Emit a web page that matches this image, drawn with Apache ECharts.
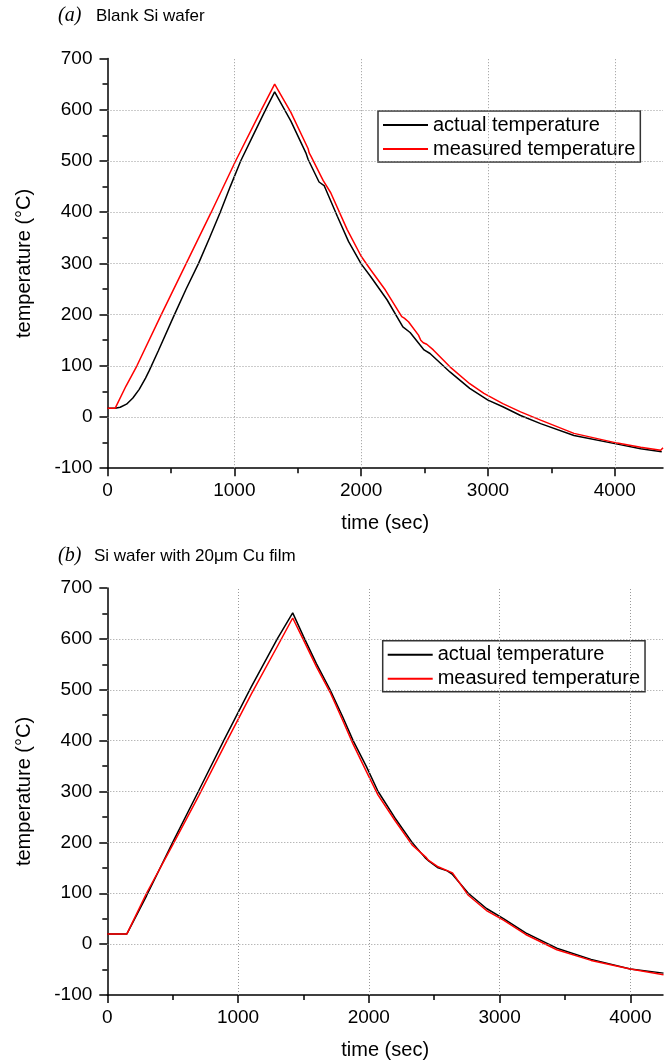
<!DOCTYPE html>
<html>
<head>
<meta charset="utf-8">
<title>temperature</title>
<script src="https://cdn.jsdelivr.net/npm/echarts@6/dist/echarts.min.js"></script>
<style>
  body { margin: 0; background: #fff; }
  #main { width: 672px; height: 1061px; }
</style>
</head>
<body>
<div id="main"></div>
<script>
// (a) blank Si wafer, [time s, temperature C]
var actualA = [[0,17],[60,17],[100,19],[150,25],[200,37],[250,54],[300,76],[330,91],[400,129],[526,199],[620,250],[718,300],[805,350],[889,400],[968,450],[1050,500],[1148,550],[1246,600],[1318,635],
  [1446,578],[1564,516],[1582,503],[1668,459],[1708,452],[1812,392],[1900,343],[2000,299],[2073,275],[2204,229],[2329,176],[2386,165],[2496,131],[2543,124],
  [2700,88],[2856,56],[3000,33],[3117,20],[3257,3],[3415,-13],[3678,-36],[4020,-53],[4204,-62],[4370,-68]];
var measuredA = [[0,17],[60,17],[145,60],[232,100],[424,200],[621,300],[818,400],[1010,500],[1213,600],[1318,650],
  [1446,595],[1582,524],[1590,516],[1603,510],[1676,474],[1700,462],[1760,438],[1890,366],[2000,314],[2073,288],[2191,248],[2308,201],[2320,196],[2340,193],
  [2373,186],[2452,160],[2470,150],[2490,145],[2517,142],[2569,131],[2700,98],[2856,65],[2968,46],[3117,26],[3257,10],[3415,-6],[3678,-32],[4020,-51],
  [4204,-59],[4362,-65],[4380,-60]];

// (b) Si wafer with 20um Cu film
var actualB = [[0,20],[150,20],[160,21],[300,95],[500,200],[700,302],[900,405],[1100,505],[1300,600],[1418,651],
  [1500,605],[1600,551],[1704,500],[1800,447],[1880,400],[1980,350],[2071,300],[2200,248],[2331,200],[2430,170],[2460,163],[2530,150],[2600,144],[2640,137],
  [2761,100],[2900,70],[3030,50],[3200,22],[3438,-8],[3700,-30],[4000,-49],[4254,-57]];
var measuredB = [[0,20],[150,20],[160,22],[300,100],[500,195],[700,292],[900,392],[1100,491],[1300,585],[1418,641],
  [1500,598],[1600,545],[1704,495],[1800,440],[1880,393],[1980,340],[2071,293],[2200,243],[2331,195],[2440,170],[2455,165],[2530,152],[2640,140],[2655,137],
  [2761,96],[2900,66],[3030,47],[3200,19],[3438,-11],[3700,-32],[4000,-49],[4254,-60]];

var xMajor = [0, 1000, 2000, 3000, 4000];
var xMinor = [500, 1500, 2500, 3500];
var yGrid = [0, 100, 200, 300, 400, 500, 600];
var xGrid = [1000, 2000, 3000, 4000];
var names = ['actual temperature', 'measured temperature'];

var chart = echarts.init(document.getElementById('main'));
var font = '"Liberation Sans", Arial, sans-serif';

function xAxes(grid, max) {
  return [{
    gridIndex: grid, type: 'value', min: 0, max: max,
    axisLine: { onZero: false, lineStyle: { color: '#000', width: 1.5 } },
    axisTick: { length: 8, customValues: xMajor, lineStyle: { color: '#000', width: 1.5 } },
    axisLabel: { customValues: xMajor, color: '#000', fontSize: 19, fontFamily: font, margin: 13,
      formatter: function (v) { return String(v); } },
    splitLine: { show: false },
    name: 'time (sec)', nameLocation: 'middle', nameGap: 45,
    nameTextStyle: { color: '#000', fontSize: 20, fontFamily: font }
  }, {
    // minor ticks only
    gridIndex: grid, type: 'value', min: 0, max: max, position: 'bottom',
    axisLine: { show: false, onZero: false },
    axisTick: { length: 5, customValues: xMinor, lineStyle: { color: '#000', width: 1.5 } },
    axisLabel: { show: false },
    splitLine: { show: false }
  }];
}

function yAxis(grid) {
  return {
    gridIndex: grid, type: 'value', min: -100, max: 700, interval: 100,
    axisLine: { show: true, onZero: false, lineStyle: { color: '#000', width: 1.5 } },
    axisTick: { show: true, length: 8, lineStyle: { color: '#000', width: 1.5 } },
    minorTick: { show: true, splitNumber: 2, length: 5, lineStyle: { color: '#000', width: 1.5 } },
    axisLabel: { color: '#000', fontSize: 19, fontFamily: font, margin: 15 },
    splitLine: { show: false },
    name: 'temperature (°C)', nameLocation: 'middle', nameGap: 73,
    nameTextStyle: { color: '#000', fontSize: 20, fontFamily: font }
  };
}

function gridLines(xi, yi) {
  var d = [];
  yGrid.forEach(function (v) { d.push({ yAxis: v }); });
  xGrid.forEach(function (v) { d.push({ xAxis: v }); });
  return {
    type: 'line', xAxisIndex: xi, yAxisIndex: yi, data: [], z: 1, silent: true,
    markLine: {
      silent: true, symbol: ['none', 'none'], label: { show: false },
      lineStyle: { color: '#999', type: [1, 2], width: 1 },
      emphasis: { disabled: true },
      data: d
    }
  };
}

function line(name, data, color, xi, yi) {
  return {
    name: name, type: 'line', data: data, xAxisIndex: xi, yAxisIndex: yi,
    showSymbol: false, symbol: 'none', z: 3,
    lineStyle: { color: color, width: 1.5 }, itemStyle: { color: color }
  };
}

function legend(left, top) {
  return {
    data: names, left: left, top: top, orient: 'vertical',
    icon: 'rect', itemWidth: 45, itemHeight: 2, itemGap: 4,
    borderColor: '#333', borderWidth: 1.5, borderRadius: 0,
    padding: [4, 5, 3, 5], selectedMode: false,
    textStyle: { color: '#000', fontSize: 20, lineHeight: 20, fontFamily: font }
  };
}

var option = {
  animation: false,
  backgroundColor: '#fff',
  grid: [
    { left: 107.5, top: 58.6, width: 555.5, height: 409.6 },
    { left: 107.3, top: 588, width: 555.7, height: 408.6 }
  ],
  xAxis: xAxes(0, 4380).concat(xAxes(1, 4250)),
  yAxis: [yAxis(0), yAxis(1)],
  legend: [legend(378, 111), legend(382.7, 640.7)],
  graphic: [
    { type: 'text', left: 58, top: 6, style: { text: '(a)', font: 'italic 20px "Liberation Serif", serif', fill: '#000' } },
    { type: 'text', left: 96, top: 8, style: { text: 'Blank Si wafer', font: '17px ' + font, fill: '#000' } },
    { type: 'text', left: 58, top: 546, style: { text: '(b)', font: 'italic 20px "Liberation Serif", serif', fill: '#000' } },
    { type: 'text', left: 94, top: 548, style: { text: 'Si wafer with 20μm Cu film', font: '17px ' + font, fill: '#000' } }
  ],
  series: [
    gridLines(0, 0),
    gridLines(2, 1),
    line(names[0], actualA, '#000', 0, 0),
    line(names[1], measuredA, '#ff0000', 0, 0),
    line(names[0], actualB, '#000', 2, 1),
    line(names[1], measuredB, '#ff0000', 2, 1)
  ]
};

chart.setOption(option);
</script>
</body>
</html>
